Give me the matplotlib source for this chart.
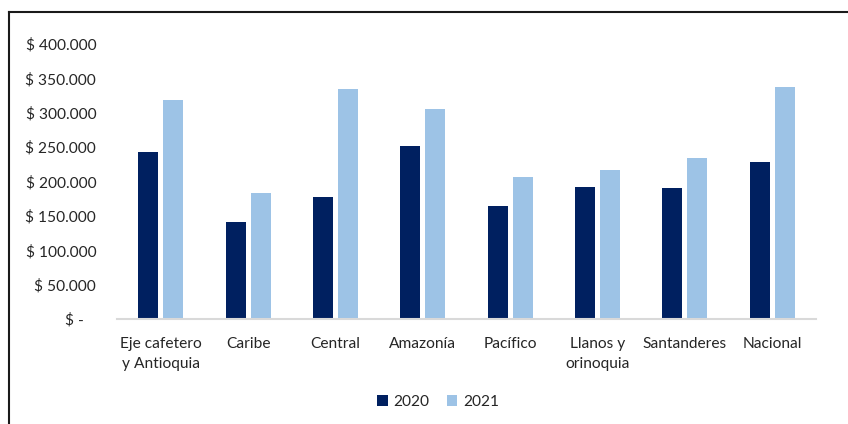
import matplotlib
matplotlib.use("Agg")
import matplotlib.pyplot as plt
from matplotlib.lines import Line2D
from matplotlib.ticker import FuncFormatter
import numpy as np

categories = ["Eje cafetero\ny Antioquia", "Caribe", "Central", "Amazonía", "Pacífico",
              "Llanos y\norinoquia", "Santanderes", "Nacional"]
values_2020 = [243000, 141000, 178000, 251500, 164500, 192000, 190500, 229000]
values_2021 = [318500, 183000, 334500, 305500, 207000, 217000, 234000, 337500]
series_names = ["2020", "2021"]
yticks = [0, 50000, 100000, 150000, 200000, 250000, 300000, 350000, 400000]

plt.rcParams['font.family'] = ['Lato', 'DejaVu Sans']

W, H = 848, 424
fig = plt.figure(figsize=(W / 100, H / 100), dpi=100)
ax = fig.add_axes([117 / W, 105 / H, (816 - 117) / W, 275 / H])

x = np.arange(len(categories))
bw = 0.228
off = 0.143
c1, c2 = "#002060", "#9DC3E6"
ax.bar(x - off, values_2020, bw, color=c1, label=series_names[0])
ax.bar(x + off, values_2021, bw, color=c2, label=series_names[1])

ax.set_xlim(-0.5, len(categories) - 0.5)
ax.set_ylim(0, 400000)
ax.set_yticks(yticks)


def fmt(v, pos):
    if v == 0:
        return "$ -   "
    return "$ " + f"{v:,.0f}".replace(",", ".")


ax.yaxis.set_major_formatter(FuncFormatter(fmt))
ax.set_xticks(x)
ax.set_xticklabels(categories, fontsize=11.2, color="#262626", linespacing=1.55)
ax.tick_params(axis="y", length=0, pad=15, labelsize=11.2, labelcolor="#262626")
ax.tick_params(axis="x", length=0, pad=13)
for s in ["top", "right", "left"]:
    ax.spines[s].set_visible(False)
ax.spines["bottom"].set_color("#D9D9D9")
ax.spines["bottom"].set_linewidth(1.5)

leg = fig.legend(loc="center", bbox_to_anchor=(438 / W, 1 - 402 / H), ncol=2, frameon=False,
                 fontsize=11.2, handlelength=0.7, handleheight=0.7, handletextpad=0.35,
                 columnspacing=1.1)
for t in leg.get_texts():
    t.set_color("#262626")

# outer frame (left and top edges visible)
fig.add_artist(Line2D([9 / W, 9 / W], [0, 1 - 12 / H], transform=fig.transFigure,
                      color="#1a1a1a", lw=1.5))
fig.add_artist(Line2D([9 / W, 1], [1 - 12 / H, 1 - 12 / H], transform=fig.transFigure,
                      color="#1a1a1a", lw=1.5))

fig.savefig("out.png", dpi=100)
